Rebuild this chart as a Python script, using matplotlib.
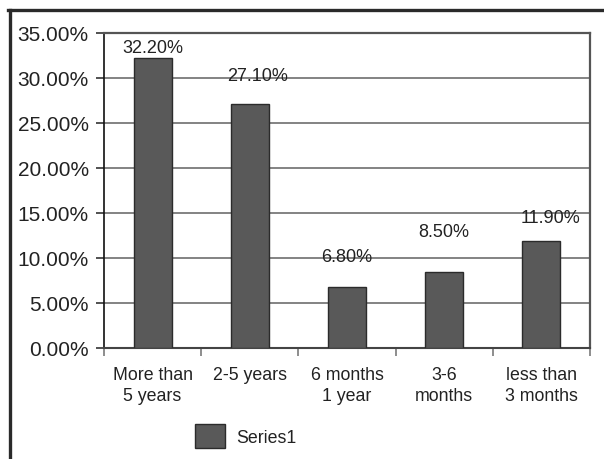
import numpy as np
import matplotlib.pyplot as plt
from matplotlib.lines import Line2D
from matplotlib.ticker import FixedLocator, PercentFormatter

categories = ["More than\n5 years", "2-5 years", "6 months\n1 year", "3-6\nmonths", "less than\n3 months"]
shares = [32.2, 27.1, 6.8, 8.5, 11.9]
series_name = "Series1"

# where each value label sits (data units), they are not stacked evenly on the bars
label_y = [32.9, 29.8, 9.7, 12.4, 14.0]
label_dx = [0.0, 0.08, 0.0, 0.0, 0.09]

plt.rcParams.update({
    "font.family": ["Liberation Sans", "DejaVu Sans"],
    "text.color": "#222222",
    "xtick.color": "#222222",
    "ytick.color": "#222222",
})

fig = plt.figure(figsize=(6.04, 4.6), dpi=100)
ax = fig.add_axes([104 / 604, 1 - 349 / 460, 486 / 604, 315 / 460])

x = np.arange(len(categories))
bars = ax.bar(x, shares, width=0.39, color="#595959", edgecolor="#2b2b2b",
              linewidth=1.0, zorder=3, label=series_name)

for xi, v, ly, dx in zip(x, shares, label_y, label_dx):
    ax.text(xi + dx, ly, f"{v:.2f}%", ha="center", va="baseline", fontsize=13, zorder=4)

ax.set_xlim(-0.5, len(categories) - 0.5)
ax.set_ylim(0, 35)
ax.set_yticks(np.arange(0, 36, 5))
ax.yaxis.set_major_formatter(PercentFormatter(decimals=2))
ax.grid(axis="y", color="#7a7a7a", linewidth=1.3, zorder=0)
ax.set_axisbelow(True)

ax.set_xticks(x)
ax.set_xticklabels(categories, fontsize=12.8, linespacing=1.3)
ax.xaxis.set_minor_locator(FixedLocator(np.arange(-0.5, len(categories), 1.0)))
ax.tick_params(axis="x", which="major", length=0, pad=13)
ax.tick_params(axis="x", which="minor", length=6, width=1.2, color="#7a7a7a")
ax.tick_params(axis="y", length=6, width=1.2, color="#333333", labelsize=15, pad=5)

for side in ("top", "right"):
    ax.spines[side].set_color("#555555")
    ax.spines[side].set_linewidth(1.6)
ax.spines["left"].set_color("#111111")
ax.spines["left"].set_linewidth(1.2)
ax.spines["bottom"].set_color("#444444")
ax.spines["bottom"].set_linewidth(1.5)

ax.legend(loc="center left", bbox_to_anchor=(195 / 604, 1 - 437 / 460),
          bbox_transform=fig.transFigure, frameon=False, fontsize=12.8,
          handlelength=1.7, handleheight=1.7, handletextpad=0.6,
          borderpad=0, borderaxespad=0)

# outer frame, open on the right and bottom
fig.add_artist(Line2D([9.5 / 604, 9.5 / 604], [0, 1 - 10.5 / 460], transform=fig.transFigure,
                      color="#2a2a2a", linewidth=2.4))
fig.add_artist(Line2D([8.3 / 604, 1], [1 - 10.5 / 460, 1 - 10.5 / 460], transform=fig.transFigure,
                      color="#2a2a2a", linewidth=2.4))

fig.savefig("out.png", dpi=100)
